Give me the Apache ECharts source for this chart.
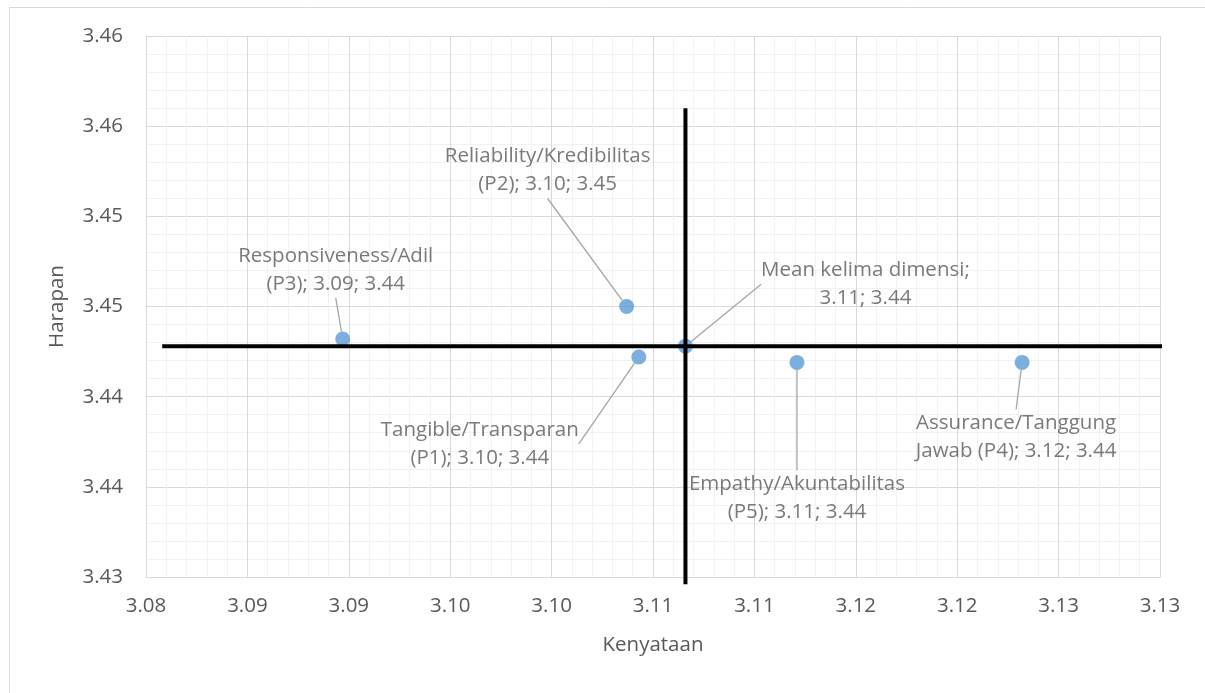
<!DOCTYPE html>
<html>
<head>
<meta charset="utf-8">
<script src="https://cdn.jsdelivr.net/npm/echarts@6/dist/echarts.min.js"></script>
<style>
html,body{margin:0;padding:0;background:#fff;}
#chart{width:1205px;height:693px;}
</style>
</head>
<body>
<div id="chart"></div>
<script>
// ---- data ----
var pointNames = [
  'Responsiveness/Adil\n(P3); 3.09; 3.44',
  'Reliability/Kredibilitas\n(P2); 3.10; 3.45',
  'Tangible/Transparan\n(P1); 3.10; 3.44',
  'Mean kelima dimensi;\n3.11; 3.44',
  'Empathy/Akuntabilitas\n(P5); 3.11; 3.44',
  'Assurance/Tanggung\nJawab (P4); 3.12; 3.44'
];
var kenyataan = [3.0897, 3.1037, 3.1043, 3.1066, 3.1121, 3.1232];
var harapan   = [3.4432, 3.4450, 3.4422, 3.4428, 3.4419, 3.4419];
// label offsets (px) from point to label centre
var labelDx = [-7, -79, -159, 180, 0, -6];
var labelDy = [-69, -136, 87, -62, 136, 75];

var xTickLabels = ['3.08','3.09','3.09','3.10','3.10','3.11','3.11','3.12','3.12','3.13','3.13'];
var yTickLabels = ['3.43','3.44','3.44','3.45','3.45','3.46','3.46'];
var xMin = 3.08, xMax = 3.13, yMin = 3.43, yMax = 3.46, step = 0.005;

// quadrant lines
var meanX = kenyataan[3], meanY = harapan[3];
var hLineX = [3.0808, 3.1310];
var vLineY = [3.4296, 3.4560];

var textColor = '#595959';
var font = '"Open Sans", sans-serif';
var fs = 20.5;

var chart = echarts.init(document.getElementById('chart'));
var scatterData = kenyataan.map(function (x, i) { return { value: [x, harapan[i]], name: pointNames[i] }; });

chart.setOption({
  animation: false,
  backgroundColor: '#fff',
  graphic: [{
    type: 'rect', left: 7, top: 5, shape: { width: 1220, height: 720 },
    style: { fill: 'none', stroke: '#d9d9d9', lineWidth: 1 }, silent: true, z: -1
  }],
  grid: { left: 146, right: 45, top: 36, bottom: 116 },
  xAxis: {
    type: 'value', min: xMin, max: xMax, interval: step,
    name: 'Kenyataan', nameLocation: 'middle', nameGap: 58,
    nameTextStyle: { color: textColor, fontSize: fs, fontFamily: font },
    axisLine: { show: true, lineStyle: { color: '#d9d9d9', width: 1 } },
    axisTick: { show: false },
    axisLabel: {
      color: textColor, fontSize: fs, fontFamily: font, margin: 19,
      formatter: function (v) { return xTickLabels[Math.round((v - xMin) / step)]; }
    },
    splitLine: { show: true, lineStyle: { color: '#d9d9d9', width: 1 } },
    minorTick: { show: false, splitNumber: 5 },
    minorSplitLine: { show: true, lineStyle: { color: '#f2f2f2', width: 1 } }
  },
  yAxis: {
    type: 'value', min: yMin, max: yMax, interval: step,
    name: 'Harapan', nameLocation: 'middle', nameGap: 78,
    nameTextStyle: { color: textColor, fontSize: fs, fontFamily: font },
    axisLine: { show: true, lineStyle: { color: '#d9d9d9', width: 1 } },
    axisTick: { show: false },
    axisLabel: {
      color: textColor, fontSize: fs, fontFamily: font, margin: 23,
      formatter: function (v) { return yTickLabels[Math.round((v - yMin) / step)]; }
    },
    splitLine: { show: true, lineStyle: { color: '#d9d9d9', width: 1 } },
    minorTick: { show: false, splitNumber: 5 },
    minorSplitLine: { show: true, lineStyle: { color: '#f2f2f2', width: 1 } }
  },
  series: [
    {
      type: 'scatter', z: 2,
      symbolSize: 15,
      itemStyle: { color: '#5b9bd5' },
      data: scatterData,
      label: {
        show: true, position: 'inside',
        formatter: function (p) { return p.name; },
        color: textColor, fontSize: fs, fontFamily: font, lineHeight: 28, align: 'center'
      },
      labelLine: { show: true, lineStyle: { color: '#a6a6a6', width: 1.3 } },
      labelLayout: function (p) {
        return { dx: labelDx[p.dataIndex], dy: labelDy[p.dataIndex] };
      }
    },
    {
      type: 'line', z: 5, clip: false, symbol: 'none', silent: true,
      lineStyle: { color: '#000', width: 4 },
      data: [[hLineX[0], meanY], [hLineX[1], meanY]]
    },
    {
      type: 'line', z: 5, clip: false, symbol: 'none', silent: true,
      lineStyle: { color: '#000', width: 4 },
      data: [[meanX, vLineY[0]], [meanX, vLineY[1]]]
    }
  ]
});
</script>
</body>
</html>
